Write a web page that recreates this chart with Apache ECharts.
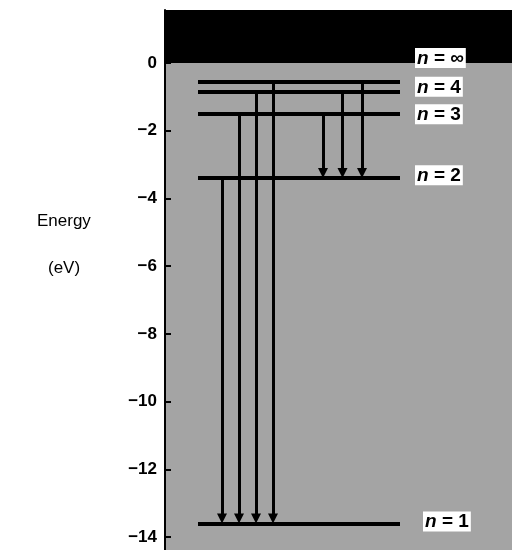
<!DOCTYPE html>
<html>
<head>
<meta charset="utf-8">
<script src="https://cdn.jsdelivr.net/npm/echarts@6/dist/echarts.min.js"></script>
<style>html,body{margin:0;padding:0;background:#fff}#c{width:512px;height:550px}</style>
</head>
<body>
<div id="c"></div>
<script>
// ---- data ----
const levelN = [1, 2, 3, 4, 5];
const levelEnergies = [-13.6, -3.4, -1.51, -0.85, -0.54];
const labelTexts = ['1', '2', '3', '4', '∞'];
const labelEnergies = [-13.6, -3.4, -1.51, -0.85, 0];
const lymanFrom = [2, 3, 4, 5];
const lymanTo = 1;
const balmerFrom = [3, 4, 5];
const balmerTo = 2;
const yTicks = [0, -2, -4, -6, -8, -10, -12, -14];

// ---- layout ----
const X_MAX = 347;
const LINE_X0 = 33, LINE_X1 = 235;
const LYMAN_X0 = 57, LYMAN_STEP = 17;
const BALMER_X0 = 158, BALMER_STEP = 19.5;
const LABEL_X = [258, 250, 250, 250, 250];
const LABEL_DY = [-2, -3, 0, -5, -5];
const Y_MIN = -14.38, Y_MAX = 1.565;
const TIP = 0.15;

const E = n => levelEnergies[levelN.indexOf(n)];

const levelLines = levelEnergies.map(e => ({ coords: [[LINE_X0, e], [LINE_X1, e]] }));
const arrows = [];
lymanFrom.forEach((n, i) => {
  const x = LYMAN_X0 + LYMAN_STEP * i;
  arrows.push({ coords: [[x, E(n)], [x, E(lymanTo) + TIP]] });
});
balmerFrom.forEach((n, i) => {
  const x = BALMER_X0 + BALMER_STEP * i;
  arrows.push({ coords: [[x, E(n)], [x, E(balmerTo) + TIP]] });
});
const labelData = labelTexts.map((t, i) => ({
  value: [LABEL_X[i], labelEnergies[i]],
  name: t,
  label: { offset: [0, LABEL_DY[i]] }
}));

const chart = echarts.init(document.getElementById('c'));
chart.setOption({
  animation: false,
  backgroundColor: '#fff',
  grid: { left: 165, right: 0, top: 10, bottom: 0, show: true, backgroundColor: '#a4a4a4', borderWidth: 0 },
  xAxis: { type: 'value', min: 0, max: X_MAX, show: false },
  yAxis: {
    type: 'value', min: Y_MIN, max: Y_MAX,
    axisLine: { show: true, lineStyle: { color: '#000', width: 2 } },
    axisTick: { show: true, inside: true, length: 6, customValues: yTicks, lineStyle: { color: '#000', width: 2 } },
    axisLabel: {
      customValues: yTicks, margin: 8, color: '#000',
      fontFamily: 'Liberation Sans, Arial, sans-serif', fontSize: 17, fontWeight: 'bold',
      formatter: v => (v < 0 ? '\u2212' + Math.abs(v) : String(v))
    },
    splitLine: { show: false }
  },
  graphic: [
    { type: 'text', left: 37, top: 213, style: { text: 'Energy', fill: '#000', font: '17px "Liberation Sans", Arial, sans-serif' } },
    { type: 'text', left: 48, top: 260, style: { text: '(eV)', fill: '#000', font: '17px "Liberation Sans", Arial, sans-serif' } }
  ],
  series: [
    {
      type: 'line', data: [], silent: true,
      markArea: { silent: true, itemStyle: { color: '#000' }, data: [[{ yAxis: 0 }, { yAxis: Y_MAX }]] }
    },
    {
      type: 'lines', coordinateSystem: 'cartesian2d', silent: true,
      lineStyle: { color: '#000', width: 4, opacity: 1 },
      symbol: ['none', 'none'],
      data: levelLines
    },
    {
      type: 'lines', coordinateSystem: 'cartesian2d', silent: true,
      lineStyle: { color: '#000', width: 3, opacity: 1 },
      symbol: ['none', 'triangle'], symbolSize: [0, 10],
      itemStyle: { color: '#000' },
      data: arrows
    },
    {
      type: 'scatter', symbolSize: 0, silent: true, z: 10,
      itemStyle: { opacity: 1 },
      data: labelData,
      label: {
        show: true, position: 'right', distance: 0, opacity: 1,
        backgroundColor: '#fff', padding: [1, 2, 0, 2],
        formatter: p => '{i|n}{b| = ' + p.name + '}',
        rich: {
          i: { fontFamily: 'Liberation Sans, Arial, sans-serif', fontSize: 19, fontStyle: 'italic', fontWeight: 'bold', color: '#000' },
          b: { fontFamily: 'Liberation Sans, Arial, sans-serif', fontSize: 19, fontWeight: 'bold', color: '#000' }
        }
      }
    }
  ]
});
</script>
</body>
</html>
